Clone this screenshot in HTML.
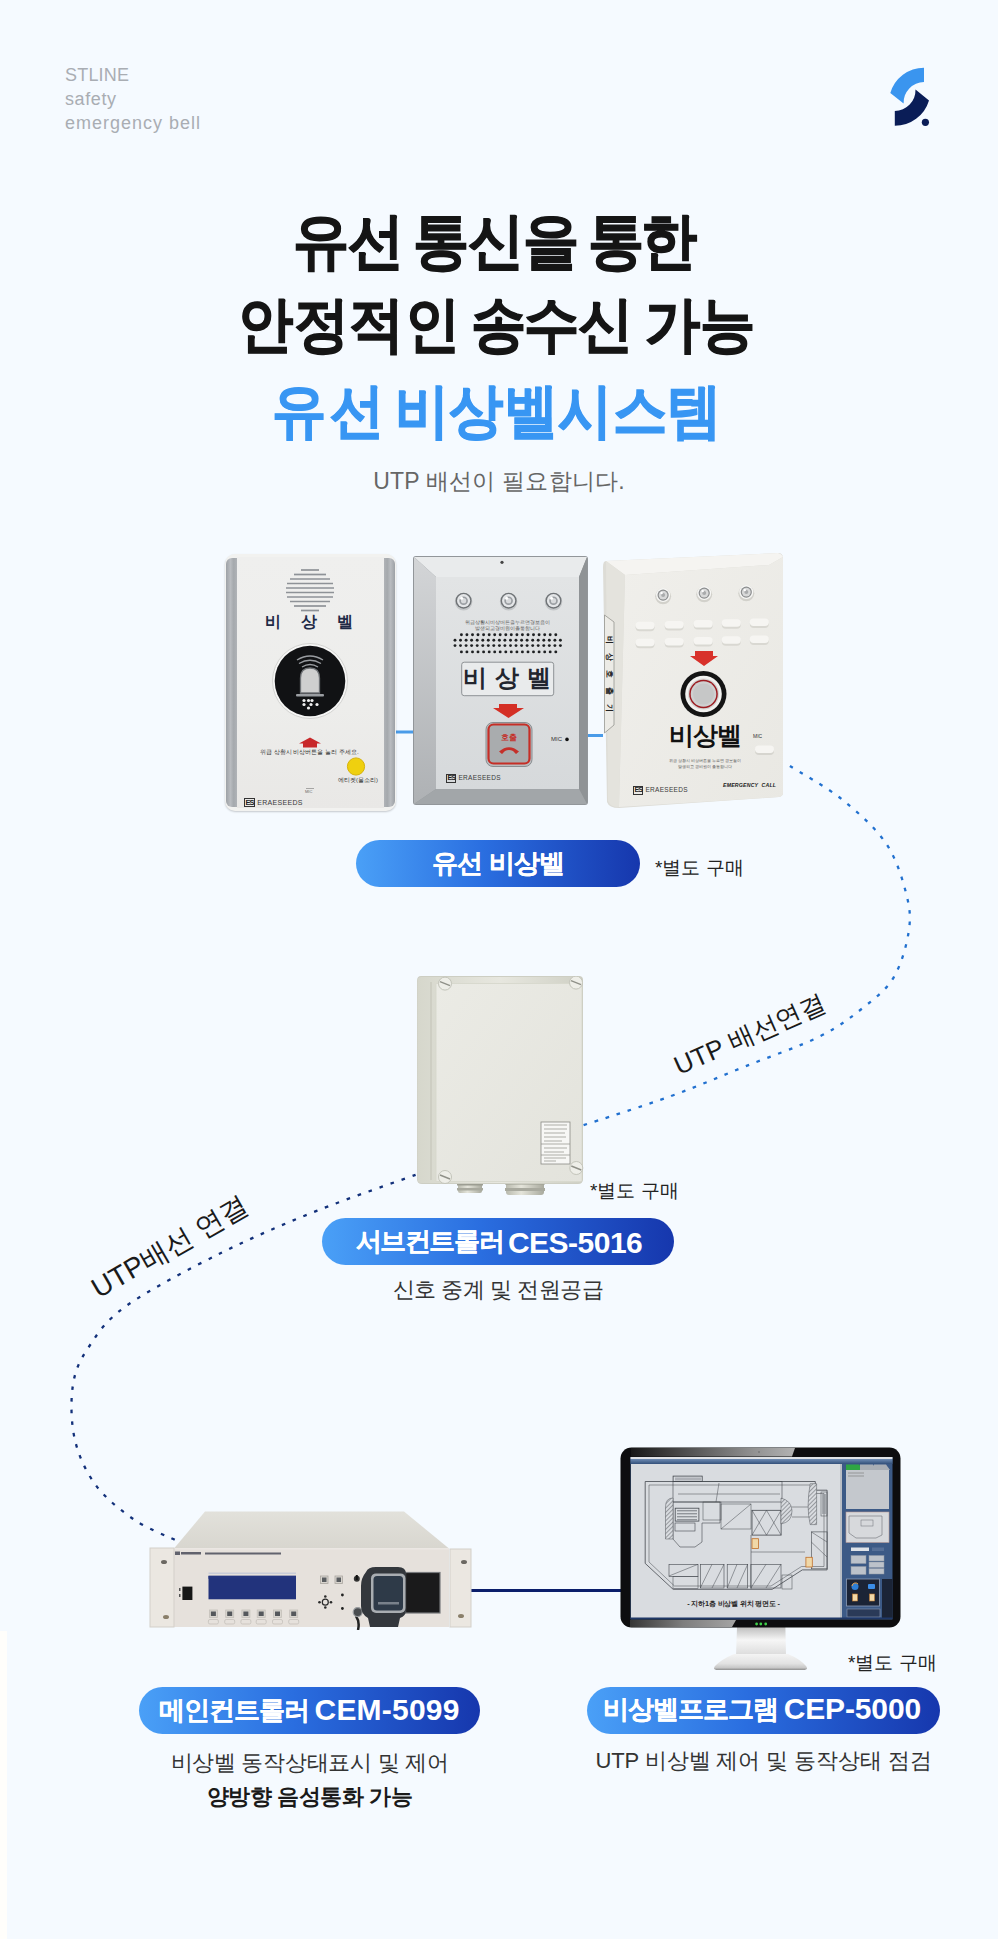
<!DOCTYPE html>
<html><head><meta charset="utf-8">
<style>
html,body{margin:0;padding:0}
body{width:998px;height:1939px;position:relative;overflow:hidden;background:#f5faff;font-family:"Liberation Sans",sans-serif}
.a{position:absolute}
.brand{left:65px;top:63px;color:#a9adb3;font-size:18px;line-height:24px;letter-spacing:1px}
.t{left:0;width:998px;text-align:center;font-weight:700;white-space:nowrap}
.tw{font-weight:700;white-space:nowrap;transform:scaleX(0.92);transform-origin:0 0}
.pill{position:absolute;border-radius:30px;background:linear-gradient(90deg,#4aa0f7 0%,#2a6ee0 45%,#1637ad 100%);color:#fff;text-align:center;font-weight:700;white-space:nowrap}
.pt{color:#fff;font-weight:700;white-space:nowrap;transform-origin:0 0;line-height:normal}
.note{color:#222;font-size:19px;white-space:nowrap}
.desc{color:#333;font-size:22px;white-space:nowrap;text-align:center}
</style></head><body>
<div class="a" style="left:0;top:1631px;width:7px;height:308px;background:#fffefb"></div>
<div class="a brand"><span style="letter-spacing:0.2px">STLINE</span><br><span style="letter-spacing:0.6px">safety</span><br>emergency bell</div>
<svg class="a" style="left:0;top:0" width="998" height="1939" viewBox="0 0 998 1939">
<path d="M924 67.7 A35 35 0 0 0 890.3 93.1 L903.6 103.4 A20.6 20.6 0 0 1 924 82 Z" fill="#3a95ef"/>
<path d="M894.8 125.8 A35.7 35.7 0 0 0 929 100.4 L915.5 89.5 A20.9 20.9 0 0 1 894.8 111 Z" fill="#0a1d57"/>
<circle cx="925.4" cy="122.3" r="3.6" fill="#0a1d57"/>
<path d="M789.9 766.0 C798.5 771.5 825.7 786.3 841.8 799.3 C857.9 812.3 875.5 827.7 886.3 843.8 C897.1 859.9 903.0 880.9 906.7 895.7 C910.4 910.5 910.7 919.2 908.5 932.8 C906.3 946.4 901.1 964.9 893.7 977.3 C886.3 989.7 876.4 997.1 864.0 1007.0 C851.6 1016.9 839.3 1026.7 819.5 1036.6 C799.7 1046.5 770.1 1056.4 745.4 1066.3 C720.7 1076.2 698.4 1086.1 671.2 1096.0 C644.0 1105.9 597.0 1120.7 582.2 1125.6" fill="none" stroke="#2170cf" stroke-width="2.3" stroke-dasharray="3.6 7.9"/>
<path d="M415.6 1174.8 C399.1 1180.8 349.0 1197.9 316.6 1210.9 C284.2 1223.9 253.1 1237.0 221.4 1252.8 C189.7 1268.6 148.4 1290.1 126.2 1306.0 C104.0 1321.9 97.0 1334.7 88.1 1348.0 C79.2 1361.3 75.0 1370.8 72.8 1386.0 C70.6 1401.2 71.0 1422.9 74.8 1439.4 C78.6 1455.9 85.9 1471.7 95.7 1485.0 C105.5 1498.3 120.5 1510.2 133.8 1519.4 C147.1 1528.6 168.7 1536.8 175.7 1540.3" fill="none" stroke="#12307a" stroke-width="2.3" stroke-dasharray="3.6 8"/>
<rect x="394" y="730.5" width="20" height="3" fill="#4a9be8"/>
<rect x="586" y="734" width="17" height="3" fill="#4a9be8"/>
<rect x="467" y="1589" width="156" height="3" fill="#0b1e6b"/>
</svg>
<div id="rt1" class="a" style="left:640px;top:1017px;width:220px;text-align:center;font-size:26px;color:#1a1a1a;transform:rotate(-24deg);white-space:nowrap">UTP 배선연결</div>
<div id="rt2" class="a" style="left:60px;top:1228px;width:220px;text-align:center;font-size:28px;color:#1a1a1a;transform:rotate(-30deg);white-space:nowrap">UTP배선 연결</div>
<div class="a tw" style="left:292.8px;top:201px;font-size:61px;letter-spacing:-1.09px;color:#151515;-webkit-text-stroke:1.2px #151515">유선</div>
<div class="a tw" style="left:413.4px;top:201px;font-size:61px;letter-spacing:-1.36px;color:#151515;-webkit-text-stroke:1.2px #151515">통신을</div>
<div class="a tw" style="left:587.5px;top:201px;font-size:61px;letter-spacing:-3.26px;color:#151515;-webkit-text-stroke:1.2px #151515">통한</div>
<div class="a tw" style="left:238.2px;top:285px;font-size:60px;letter-spacing:0.36px;color:#151515;-webkit-text-stroke:1.2px #151515">안정적인</div>
<div class="a tw" style="left:470.5px;top:285px;font-size:60px;letter-spacing:-1.9px;color:#151515;-webkit-text-stroke:1.2px #151515">송수신</div>
<div class="a tw" style="left:645.1px;top:285px;font-size:60px;letter-spacing:-0.54px;color:#151515;-webkit-text-stroke:1.2px #151515">가능</div>
<div class="a tw" style="left:272.4px;top:372px;font-size:59px;letter-spacing:3.8px;color:#3896f3;-webkit-text-stroke:1.2px #3896f3">유선</div>
<div class="a tw" style="left:394.7px;top:372px;font-size:59px;letter-spacing:0.22px;color:#3896f3;-webkit-text-stroke:1.2px #3896f3">비상벨시스템</div>
<div class="a t" style="top:466px;font-size:23px;letter-spacing:0.21px;font-weight:400;color:#666">UTP 배선이 필요합니다.</div>


<!-- device 1 -->
<div class="a" style="left:225px;top:554px;width:171px;height:257px;border-radius:10px;background:#f2f2f0;box-shadow:0 1px 2px rgba(0,0,0,.2)">
 <div class="a" style="left:1px;top:4px;width:11px;height:249px;border-radius:6px 0 0 6px;background:linear-gradient(90deg,#9da1a6,#b9bcc0 40%,#a5a9ad 70%,#b0b3b7)"></div>
 <div class="a" style="left:159px;top:4px;width:11px;height:249px;border-radius:0 6px 6px 0;background:linear-gradient(90deg,#b0b3b7,#a5a9ad 30%,#b9bcc0 60%,#9da1a6)"></div>
 <div class="a" style="left:12px;top:3px;width:147px;height:251px;background:linear-gradient(180deg,#efefee,#ededeb 60%,#e9e8e6)"></div>
 <svg class="a" style="left:0;top:0" width="171" height="257" viewBox="0 0 171 257">
  <g stroke="#8e9297" stroke-width="1.7">
   <line x1="76" y1="16" x2="94" y2="16"/><line x1="69" y1="20.5" x2="101" y2="20.5"/><line x1="65" y1="25" x2="105" y2="25"/>
   <line x1="62" y1="29.5" x2="108" y2="29.5"/><line x1="61" y1="34" x2="109" y2="34"/><line x1="61" y1="38.5" x2="109" y2="38.5"/>
   <line x1="62" y1="43" x2="108" y2="43"/><line x1="65" y1="47.5" x2="105" y2="47.5"/><line x1="69" y1="52" x2="101" y2="52"/><line x1="76" y1="56.5" x2="94" y2="56.5"/>
  </g>
  <circle cx="85" cy="127" r="37.5" fill="#f7f7f6" stroke="#d3d3d1" stroke-width="1"/>
  <circle cx="85" cy="127" r="35.3" fill="#111214"/>
  <g fill="none" stroke="#9a9da1" stroke-width="1.4"><path d="M72 106 Q85 98 98 106"/><path d="M74 109.5 Q85 103 96 109.5"/><path d="M77 113 Q85 108 93 113"/></g>
  <path d="M75.5 139 V124 Q75.5 114 85 114 Q94.5 114 94.5 124 V139 Z" fill="#cfcfcf" stroke="#6f7276" stroke-width="1.3"/>
  <rect x="71" y="140" width="28" height="2.5" rx="1" fill="#9a9da1"/>
  <g fill="#f0f0f0"><circle cx="79" cy="146.5" r="1.6"/><circle cx="83.5" cy="146.5" r="1.6"/><circle cx="87" cy="146.5" r="1.6"/><circle cx="79" cy="150.5" r="1.6"/><circle cx="86" cy="150.5" r="1.6"/><circle cx="92" cy="150.5" r="1.6"/><circle cx="83.5" cy="154" r="1.6"/></g>
  <path d="M74 189.5 L85 183.5 L96 189.5 Z M78 189 H92 V193.5 H78 Z" fill="#c8282a"/>
  <circle cx="131" cy="212.5" r="8.6" fill="#efd00f" stroke="#d6b20a" stroke-width="1"/>
  <line x1="81" y1="234.5" x2="89" y2="234.5" stroke="#777" stroke-width="0.6"/>
 </svg>
 <div class="a" style="left:40px;top:59px;font-size:15.5px;font-weight:700;color:#1e2a46;letter-spacing:20px;line-height:18px;white-space:nowrap">비상벨</div>
 <div class="a" style="left:35px;top:194px;font-size:6.2px;color:#333;white-space:nowrap;letter-spacing:0px">위급 상황시 비상버튼을 눌러 주세요.</div>
 <div class="a" style="left:113px;top:222px;font-size:5.8px;color:#333;white-space:nowrap">에티켓(물소리)</div>
 <div class="a" style="left:80px;top:235px;font-size:4px;color:#666">MIC</div>
 <div class="a" style="left:19px;top:244px;font-size:7px;color:#3a3a3a;white-space:nowrap;letter-spacing:0.3px"><span style="display:inline-block;font-size:7.5px;font-weight:700;color:#222;border:1px solid #333;line-height:7px;padding:0 0.5px;letter-spacing:-1px">ES</span> ERAESEEDS</div>
</div>
<!-- device 2 -->
<div class="a" style="left:413px;top:556px;width:175px;height:249px">
 <svg class="a" style="left:0;top:0" width="175" height="249" viewBox="0 0 175 249">
  <defs>
   <linearGradient id="d2f" x1="0" y1="0" x2="0" y2="1"><stop offset="0" stop-color="#e2e4e5"/><stop offset="1" stop-color="#d6d9db"/></linearGradient>
   <linearGradient id="d2l" x1="0" y1="0" x2="0" y2="1"><stop offset="0" stop-color="#d3d5d7"/><stop offset="1" stop-color="#aeb1b4"/></linearGradient>
  </defs>
  <path d="M0 3 Q0 0 3 0 H172 Q175 0 175 3 V246 Q175 249 172 249 H3 Q0 249 0 246 Z" fill="#92969a"/>
  <path d="M1 1 H174 L166 21 H23 Z" fill="#e9ebec"/>
  <path d="M1 1 L23 21 V233 L1 248 Z" fill="url(#d2l)"/>
  <path d="M174 1 L166 21 V233 L174 248 Z" fill="#8f9396"/>
  <path d="M1 248 L23 233 H166 L174 248 Z" fill="#a2a6a9"/>
  <rect x="23" y="21" width="143" height="212" fill="url(#d2f)"/>
  <circle cx="89" cy="6.3" r="1.6" fill="#444"/>
  <g><circle cx="50.6" cy="45.7" r="8.8" fill="#c3c6c8"/><circle cx="50.6" cy="44.7" r="8" fill="#6f7376"/><circle cx="50.6" cy="44.7" r="6.6" fill="#e4e6e8"/><circle cx="50.6" cy="44.7" r="4.3" fill="#9a9ea2"/><circle cx="50.6" cy="44.7" r="2.6" fill="#d8dadc"/><circle cx="48.6" cy="42.2" r="1.5" fill="#fff"/><circle cx="95.6" cy="45.7" r="8.8" fill="#c3c6c8"/><circle cx="95.6" cy="44.7" r="8" fill="#6f7376"/><circle cx="95.6" cy="44.7" r="6.6" fill="#e4e6e8"/><circle cx="95.6" cy="44.7" r="4.3" fill="#9a9ea2"/><circle cx="95.6" cy="44.7" r="2.6" fill="#d8dadc"/><circle cx="93.6" cy="42.2" r="1.5" fill="#fff"/><circle cx="140.5" cy="45.7" r="8.8" fill="#c3c6c8"/><circle cx="140.5" cy="44.7" r="8" fill="#6f7376"/><circle cx="140.5" cy="44.7" r="6.6" fill="#e4e6e8"/><circle cx="140.5" cy="44.7" r="4.3" fill="#9a9ea2"/><circle cx="140.5" cy="44.7" r="2.6" fill="#d8dadc"/><circle cx="138.5" cy="42.2" r="1.5" fill="#fff"/></g>
  <g fill="#1e2022"><circle cx="48.4" cy="78.8" r="1.45"/><circle cx="53.9" cy="78.8" r="1.45"/><circle cx="59.5" cy="78.8" r="1.45"/><circle cx="65.0" cy="78.8" r="1.45"/><circle cx="70.6" cy="78.8" r="1.45"/><circle cx="76.2" cy="78.8" r="1.45"/><circle cx="81.7" cy="78.8" r="1.45"/><circle cx="87.2" cy="78.8" r="1.45"/><circle cx="92.8" cy="78.8" r="1.45"/><circle cx="98.3" cy="78.8" r="1.45"/><circle cx="103.9" cy="78.8" r="1.45"/><circle cx="109.4" cy="78.8" r="1.45"/><circle cx="115.0" cy="78.8" r="1.45"/><circle cx="120.5" cy="78.8" r="1.45"/><circle cx="126.1" cy="78.8" r="1.45"/><circle cx="131.7" cy="78.8" r="1.45"/><circle cx="137.2" cy="78.8" r="1.45"/><circle cx="142.8" cy="78.8" r="1.45"/><circle cx="42.0" cy="84.2" r="1.45"/><circle cx="47.5" cy="84.2" r="1.45"/><circle cx="53.1" cy="84.2" r="1.45"/><circle cx="58.6" cy="84.2" r="1.45"/><circle cx="64.2" cy="84.2" r="1.45"/><circle cx="69.8" cy="84.2" r="1.45"/><circle cx="75.3" cy="84.2" r="1.45"/><circle cx="80.8" cy="84.2" r="1.45"/><circle cx="86.4" cy="84.2" r="1.45"/><circle cx="91.9" cy="84.2" r="1.45"/><circle cx="97.5" cy="84.2" r="1.45"/><circle cx="103.0" cy="84.2" r="1.45"/><circle cx="108.6" cy="84.2" r="1.45"/><circle cx="114.1" cy="84.2" r="1.45"/><circle cx="119.7" cy="84.2" r="1.45"/><circle cx="125.2" cy="84.2" r="1.45"/><circle cx="130.8" cy="84.2" r="1.45"/><circle cx="136.3" cy="84.2" r="1.45"/><circle cx="141.9" cy="84.2" r="1.45"/><circle cx="147.4" cy="84.2" r="1.45"/><circle cx="42.0" cy="89.6" r="1.45"/><circle cx="47.5" cy="89.6" r="1.45"/><circle cx="53.1" cy="89.6" r="1.45"/><circle cx="58.6" cy="89.6" r="1.45"/><circle cx="64.2" cy="89.6" r="1.45"/><circle cx="69.8" cy="89.6" r="1.45"/><circle cx="75.3" cy="89.6" r="1.45"/><circle cx="80.8" cy="89.6" r="1.45"/><circle cx="86.4" cy="89.6" r="1.45"/><circle cx="91.9" cy="89.6" r="1.45"/><circle cx="97.5" cy="89.6" r="1.45"/><circle cx="103.0" cy="89.6" r="1.45"/><circle cx="108.6" cy="89.6" r="1.45"/><circle cx="114.1" cy="89.6" r="1.45"/><circle cx="119.7" cy="89.6" r="1.45"/><circle cx="125.2" cy="89.6" r="1.45"/><circle cx="130.8" cy="89.6" r="1.45"/><circle cx="136.3" cy="89.6" r="1.45"/><circle cx="141.9" cy="89.6" r="1.45"/><circle cx="147.4" cy="89.6" r="1.45"/><circle cx="48.4" cy="95.9" r="1.45"/><circle cx="53.9" cy="95.9" r="1.45"/><circle cx="59.5" cy="95.9" r="1.45"/><circle cx="65.0" cy="95.9" r="1.45"/><circle cx="70.6" cy="95.9" r="1.45"/><circle cx="76.2" cy="95.9" r="1.45"/><circle cx="81.7" cy="95.9" r="1.45"/><circle cx="87.2" cy="95.9" r="1.45"/><circle cx="92.8" cy="95.9" r="1.45"/><circle cx="98.3" cy="95.9" r="1.45"/><circle cx="103.9" cy="95.9" r="1.45"/><circle cx="109.4" cy="95.9" r="1.45"/><circle cx="115.0" cy="95.9" r="1.45"/><circle cx="120.5" cy="95.9" r="1.45"/><circle cx="126.1" cy="95.9" r="1.45"/><circle cx="131.7" cy="95.9" r="1.45"/><circle cx="137.2" cy="95.9" r="1.45"/><circle cx="142.8" cy="95.9" r="1.45"/></g>
  <rect x="48.7" y="106.2" width="92" height="33.5" rx="2.5" fill="#e9ebec" stroke="#8e9295" stroke-width="1"/>
  <path d="M86 148 H104 V152 H111 L95.5 162 L80 152 H86 Z" fill="#d42f25"/>
  <rect x="73" y="166.5" width="46" height="44" rx="7" fill="#b9bcbf" stroke="#8a8e91" stroke-width="1"/>
  <rect x="75.5" y="168.5" width="41" height="39" rx="5" fill="#a9acae" stroke="#c62e26" stroke-width="2.2"/>
  <path d="M86 195.5 Q96 187 106 195.5 L103 198 L100 195 Q96 193 92 195 L89 198 Z" fill="#c4302a"/>
  <circle cx="154" cy="183.4" r="1.8" fill="#111"/>
 </svg>
 <div class="a" style="left:48px;top:63px;width:92px;text-align:center;font-size:5px;line-height:6px;color:#555;white-space:nowrap">위급상황시비상버튼을누르면경보음이<br>발생되고경비원이출동합니다</div>
 <div class="a" style="left:50px;top:108px;font-size:24px;line-height:28px;font-weight:700;color:#22252e;letter-spacing:8px;white-space:nowrap">비상벨</div>
 <div class="a" style="left:76px;top:176px;width:40px;text-align:center;font-size:8px;color:#c4302a;font-weight:700">호출</div>
 <div class="a" style="left:138px;top:180px;font-size:6px;color:#333">MIC</div>
 <div class="a" style="left:33px;top:218px;font-size:6.5px;color:#3a3a3a;white-space:nowrap;letter-spacing:0.3px"><span style="display:inline-block;font-size:7px;font-weight:700;color:#222;border:1px solid #333;line-height:6.5px;padding:0 0.5px;letter-spacing:-1px">ES</span> ERAESEEDS</div>
</div>
<!-- device 3 -->
<div class="a" style="left:603px;top:553px;width:181px;height:256px">
 <svg class="a" style="left:0;top:0" width="181" height="256" viewBox="0 0 181 256">
  <defs><linearGradient id="d3f" x1="0" y1="0" x2="1" y2="1"><stop offset="0" stop-color="#f0efeb"/><stop offset="1" stop-color="#e9e8e3"/></linearGradient></defs>
  <path d="M3 8 L175 0 Q180 0 180 5 L180 240 Q180 243 176 244 L16 255 Q6 255 4 249 L0 14 Q0 8 3 8 Z" fill="#dddcd6"/>
  <path d="M3 8 L175 0 Q179 1 180 4 L166 12 L22 22 Z" fill="#f5f4f1"/>
  <path d="M22 22 L166 12 L180 4 L180 240 Q180 243 176 244 L16 254 Z" fill="url(#d3f)"/>
  <path d="M3 8 L22 22 L16 254 Q7 254 5 248 Z" fill="#e4e3dd"/>
  <path d="M1.5 62 L11 69 L11 172 L1.5 180 Z" fill="#ecebe6" stroke="#8a8a84" stroke-width="0.7"/>
  <circle cx="60.1" cy="43.300000000000004" r="8" fill="#d2d1cb"/><circle cx="60.1" cy="42.1" r="7" fill="#f7f7f5"/><circle cx="60.1" cy="42.1" r="5.6" fill="#8a8c8d"/><circle cx="60.1" cy="42.1" r="4.4" fill="#d8d9d9"/><circle cx="60.1" cy="42.1" r="2" fill="#a9abac"/><circle cx="58.6" cy="40.1" r="1.2" fill="#fff"/><circle cx="101.2" cy="41.300000000000004" r="8" fill="#d2d1cb"/><circle cx="101.2" cy="40.1" r="7" fill="#f7f7f5"/><circle cx="101.2" cy="40.1" r="5.6" fill="#8a8c8d"/><circle cx="101.2" cy="40.1" r="4.4" fill="#d8d9d9"/><circle cx="101.2" cy="40.1" r="2" fill="#a9abac"/><circle cx="99.7" cy="38.1" r="1.2" fill="#fff"/><circle cx="143.3" cy="40.300000000000004" r="8" fill="#d2d1cb"/><circle cx="143.3" cy="39.1" r="7" fill="#f7f7f5"/><circle cx="143.3" cy="39.1" r="5.6" fill="#8a8c8d"/><circle cx="143.3" cy="39.1" r="4.4" fill="#d8d9d9"/><circle cx="143.3" cy="39.1" r="2" fill="#a9abac"/><circle cx="141.8" cy="37.1" r="1.2" fill="#fff"/>
  <rect x="32.6" y="70.2" width="19" height="8" rx="4" fill="#d9d8d2"/><rect x="32.6" y="68.7" width="19" height="7.5" rx="3.7" fill="#f6f5f2"/><rect x="61.7" y="69.4" width="19" height="8" rx="4" fill="#d9d8d2"/><rect x="61.7" y="67.9" width="19" height="7.5" rx="3.7" fill="#f6f5f2"/><rect x="90.7" y="68.6" width="19" height="8" rx="4" fill="#d9d8d2"/><rect x="90.7" y="67.1" width="19" height="7.5" rx="3.7" fill="#f6f5f2"/><rect x="118.8" y="67.8" width="19" height="8" rx="4" fill="#d9d8d2"/><rect x="118.8" y="66.3" width="19" height="7.5" rx="3.7" fill="#f6f5f2"/><rect x="146.8" y="67.0" width="19" height="8" rx="4" fill="#d9d8d2"/><rect x="146.8" y="65.5" width="19" height="7.5" rx="3.7" fill="#f6f5f2"/><rect x="32.6" y="87.2" width="19" height="8" rx="4" fill="#d9d8d2"/><rect x="32.6" y="85.7" width="19" height="7.5" rx="3.7" fill="#f6f5f2"/><rect x="61.7" y="86.4" width="19" height="8" rx="4" fill="#d9d8d2"/><rect x="61.7" y="84.9" width="19" height="7.5" rx="3.7" fill="#f6f5f2"/><rect x="90.7" y="85.6" width="19" height="8" rx="4" fill="#d9d8d2"/><rect x="90.7" y="84.1" width="19" height="7.5" rx="3.7" fill="#f6f5f2"/><rect x="118.8" y="84.8" width="19" height="8" rx="4" fill="#d9d8d2"/><rect x="118.8" y="83.3" width="19" height="7.5" rx="3.7" fill="#f6f5f2"/><rect x="146.8" y="84.0" width="19" height="8" rx="4" fill="#d9d8d2"/><rect x="146.8" y="82.5" width="19" height="7.5" rx="3.7" fill="#f6f5f2"/>
  <path d="M92 98 H110 V103 H115 L101 113 L87 103 H92 Z" fill="#d8312a"/>
  <circle cx="100.5" cy="141" r="23" fill="#141414"/>
  <circle cx="100.5" cy="141" r="18.3" fill="#f2f2f0"/>
  <circle cx="100.5" cy="141" r="15.5" fill="#d4d4d2"/>
  <circle cx="100.5" cy="141" r="14.3" fill="#9c1d22"/>
  <circle cx="100.5" cy="141" r="12.8" fill="#cfd0d0"/>
  <circle cx="100.5" cy="141" r="10.5" fill="#c6c7c7"/>
  <rect x="152" y="194" width="19" height="8" rx="4" fill="#d6d5cf"/><rect x="152" y="192.5" width="19" height="7.5" rx="3.7" fill="#f6f5f2"/>
 </svg>
 <div class="a" style="left:64px;top:168px;width:76px;text-align:center;font-size:25px;line-height:28px;font-weight:700;color:#111;letter-spacing:-1px">비상벨</div>
 <div class="a" style="left:150px;top:180px;font-size:5px;color:#333">MIC</div>
 <div class="a" style="left:64px;top:205px;width:76px;text-align:center;font-size:4px;line-height:6px;color:#555;white-space:nowrap">위급 상황시 비상버튼을 누르면 경보음이<br>발생되고 경비원이 출동합니다</div>
 <div class="a" style="left:120px;top:229px;font-size:5.2px;font-weight:700;font-style:italic;color:#222;white-space:nowrap;letter-spacing:0.2px">EMERGENCY&nbsp; CALL</div>
 <div class="a" style="left:30px;top:233px;font-size:6.5px;color:#3a3a3a;white-space:nowrap;letter-spacing:0.3px"><span style="display:inline-block;font-size:7px;font-weight:700;color:#222;border:1px solid #333;line-height:6.5px;padding:0 0.5px;letter-spacing:-1px">ES</span> ERAESEEDS</div>
 <div class="a" style="left:-46px;top:116px;width:104px;height:10px;font-size:8px;line-height:10px;color:#222;text-align:center;transform:rotate(90deg);letter-spacing:9px;text-indent:9px;white-space:nowrap;font-weight:700">비상호출기</div>
</div>
<div class="pill" style="left:356px;top:840px;width:284px;height:47px;line-height:47px;font-size:26px"></div>
<div class="a note" style="left:655px;top:855px">*별도 구매</div>


<!-- subcontroller -->
<div class="a" style="left:416px;top:976px;width:168px;height:222px">
 <svg class="a" style="left:0;top:0" width="168" height="222" viewBox="0 0 168 222">
  <defs><linearGradient id="bxf" x1="0" y1="0" x2="1" y2="1"><stop offset="0" stop-color="#ebebe5"/><stop offset="1" stop-color="#e3e3dc"/></linearGradient>
  <linearGradient id="bxs" x1="0" y1="0" x2="1" y2="0"><stop offset="0" stop-color="#d6d7cc"/><stop offset="0.5" stop-color="#e7e7df"/><stop offset="1" stop-color="#cfd0c5"/></linearGradient>
  <linearGradient id="gl" x1="0" y1="0" x2="1" y2="0"><stop offset="0" stop-color="#b9baae"/><stop offset="0.4" stop-color="#e4e4da"/><stop offset="1" stop-color="#a9aa9e"/></linearGradient></defs>
  <rect x="42" y="203" width="24" height="14" rx="2" fill="url(#gl)"/><rect x="41" y="207" width="26" height="2.5" fill="#9c9d92"/><rect x="41" y="212" width="26" height="2.5" fill="#a8a99e"/>
  <rect x="90" y="199" width="38" height="20" rx="3" fill="url(#gl)"/><rect x="89" y="206" width="40" height="2.5" fill="#9c9d92"/><rect x="89" y="212" width="40" height="3" fill="#a8a99e"/>
  <path d="M5 0 H163 Q167 0 167 4 V203 Q167 208 162 208 H6 Q1 208 1 203 V5 Q1 0 5 0 Z" fill="#cdcec3"/>
  <rect x="1.5" y="1" width="165" height="206" rx="4" fill="url(#bxs)"/>
  <rect x="19" y="7" width="147" height="199" rx="2" fill="#d8d9ce"/>
  <rect x="20.5" y="8" width="145" height="197" fill="url(#bxf)"/>
  <line x1="15" y1="6" x2="15" y2="204" stroke="#c6c7bb" stroke-width="1.2"/>
  <rect x="125" y="146" width="29" height="42" fill="#f7f7f5" stroke="#8a8b84" stroke-width="0.8"/>
  <g stroke="#8d8e88" stroke-width="0.7"><line x1="128" y1="149" x2="151" y2="149"/><line x1="128" y1="153" x2="151" y2="153"/><line x1="128" y1="157" x2="149" y2="157"/><line x1="128" y1="161" x2="150" y2="161"/><line x1="128" y1="165" x2="146" y2="165"/><line x1="125" y1="168" x2="154" y2="168"/><line x1="128" y1="172" x2="151" y2="172"/><line x1="128" y1="176" x2="148" y2="176"/><line x1="125" y1="179" x2="154" y2="179"/><line x1="128" y1="182" x2="150" y2="182"/><line x1="128" y1="185" x2="140" y2="185"/></g>
  <circle cx="29" cy="7.6" r="6.5" fill="#eeeee8" stroke="#c3c4ba" stroke-width="1"/><line x1="24" y1="5.6" x2="34" y2="9.6" stroke="#8f9088" stroke-width="1.4"/><circle cx="160" cy="6.6" r="6.5" fill="#eeeee8" stroke="#c3c4ba" stroke-width="1"/><line x1="155" y1="4.6" x2="165" y2="8.6" stroke="#8f9088" stroke-width="1.4"/><circle cx="29" cy="201" r="6.5" fill="#eeeee8" stroke="#c3c4ba" stroke-width="1"/><line x1="24" y1="199" x2="34" y2="203" stroke="#8f9088" stroke-width="1.4"/><circle cx="160.3" cy="192" r="6.5" fill="#eeeee8" stroke="#c3c4ba" stroke-width="1"/><line x1="155.3" y1="190" x2="165.3" y2="194" stroke="#8f9088" stroke-width="1.4"/>
 </svg>
</div>
<div class="pill" style="left:322px;top:1218px;width:352px;height:47px;line-height:47px;font-size:26px;letter-spacing:0.33px"></div>
<div class="a note" style="left:590px;top:1178px">*별도 구매</div>
<div class="a desc" style="left:0;width:996px;top:1275px;letter-spacing:-0.5px">신호 중계 및 전원공급</div>


<!-- rack -->
<div class="a" style="left:148px;top:1510px;width:324px;height:120px">
 <svg class="a" style="left:0;top:0" width="324" height="120" viewBox="0 0 324 120">
  <defs><linearGradient id="rkt" x1="0" y1="0" x2="0" y2="1"><stop offset="0" stop-color="#e2e1db"/><stop offset="1" stop-color="#d8d6cf"/></linearGradient></defs>
  <path d="M57 1.5 H256 L301 38.5 H26 Z" fill="url(#rkt)"/>
  <rect x="25" y="38" width="276" height="79" fill="#e6e1dc"/>
  <rect x="25" y="38" width="276" height="1.5" fill="#ebe7e3"/>
  <rect x="2" y="38" width="24" height="79" fill="#ebe7e1" stroke="#d3cfc9" stroke-width="1"/>
  <rect x="302" y="39" width="21" height="78" fill="#ebe7e1" stroke="#d3cfc9" stroke-width="1"/>
  <ellipse cx="16" cy="52" rx="3" ry="2" fill="#6b6862"/><ellipse cx="18" cy="107" rx="3" ry="2" fill="#8a7f6a"/>
  <ellipse cx="316" cy="52" rx="3" ry="2" fill="#6b6862"/><ellipse cx="313" cy="106" rx="3" ry="2" fill="#8a7f6a"/>
  <g fill="#4a4c5a" opacity="0.85"><rect x="27" y="41.5" width="5" height="3.5"/><rect x="33" y="42" width="20" height="2.5"/><rect x="57" y="42.5" width="76" height="2"/></g>
  <rect x="60.5" y="62.5" width="87.5" height="1.5" fill="#c8ccd8"/>
  <rect x="60.5" y="65.8" width="87.5" height="23.5" fill="#22337c"/>
  <rect x="60.5" y="65.8" width="87.5" height="3" fill="#24357e"/>
  <rect x="34.4" y="76.6" width="10" height="13.4" fill="#161616"/>
  <rect x="31" y="78" width="1.5" height="3" fill="#555"/><rect x="31" y="84" width="1.5" height="3" fill="#555"/>
  <rect x="61.4" y="100" width="8" height="7.5" fill="#d9d5cf" stroke="#c4c0ba" stroke-width="0.8"/><rect x="62.9" y="101.5" width="5" height="4.5" fill="#55585c"/><rect x="60.4" y="109.5" width="10" height="4.5" rx="1.5" fill="none" stroke="#c0bcb6" stroke-width="0.7"/><rect x="77.7" y="100" width="8" height="7.5" fill="#d9d5cf" stroke="#c4c0ba" stroke-width="0.8"/><rect x="79.2" y="101.5" width="5" height="4.5" fill="#55585c"/><rect x="76.7" y="109.5" width="10" height="4.5" rx="1.5" fill="none" stroke="#c0bcb6" stroke-width="0.7"/><rect x="93.9" y="100" width="8" height="7.5" fill="#d9d5cf" stroke="#c4c0ba" stroke-width="0.8"/><rect x="95.4" y="101.5" width="5" height="4.5" fill="#55585c"/><rect x="92.9" y="109.5" width="10" height="4.5" rx="1.5" fill="none" stroke="#c0bcb6" stroke-width="0.7"/><rect x="109.2" y="100" width="8" height="7.5" fill="#d9d5cf" stroke="#c4c0ba" stroke-width="0.8"/><rect x="110.7" y="101.5" width="5" height="4.5" fill="#55585c"/><rect x="108.2" y="109.5" width="10" height="4.5" rx="1.5" fill="none" stroke="#c0bcb6" stroke-width="0.7"/><rect x="125.5" y="100" width="8" height="7.5" fill="#d9d5cf" stroke="#c4c0ba" stroke-width="0.8"/><rect x="127.0" y="101.5" width="5" height="4.5" fill="#55585c"/><rect x="124.5" y="109.5" width="10" height="4.5" rx="1.5" fill="none" stroke="#c0bcb6" stroke-width="0.7"/><rect x="141.7" y="100" width="8" height="7.5" fill="#d9d5cf" stroke="#c4c0ba" stroke-width="0.8"/><rect x="143.2" y="101.5" width="5" height="4.5" fill="#55585c"/><rect x="140.7" y="109.5" width="10" height="4.5" rx="1.5" fill="none" stroke="#c0bcb6" stroke-width="0.7"/>
  <rect x="172.5" y="66" width="7.5" height="7.5" fill="#d9d5cf" stroke="#aaa6a0" stroke-width="0.8"/><rect x="174" y="67.5" width="4.5" height="4.5" fill="#5a5d60"/>
  <rect x="187" y="66" width="7.5" height="7.5" fill="#d9d5cf" stroke="#aaa6a0" stroke-width="0.8"/><rect x="188.5" y="67.5" width="4.5" height="4.5" fill="#5a5d60"/>
  <g fill="#2a2a2a"><circle cx="177.3" cy="86.5" r="1.3"/><circle cx="177.3" cy="97.5" r="1.3"/><circle cx="171.5" cy="92.2" r="1.3"/><circle cx="183" cy="92.2" r="1.3"/></g>
  <circle cx="177.3" cy="92.2" r="3" fill="none" stroke="#2a2a2a" stroke-width="1.2"/>
  <circle cx="194.4" cy="85" r="1.4" fill="#222"/><circle cx="194.4" cy="98.5" r="1.4" fill="#222"/>
  <circle cx="208.8" cy="68.8" r="3" fill="#333"/><rect x="207.8" y="65" width="2" height="5" fill="#111"/>
  <path d="M208 106 Q212 112 210 120" stroke="#222" stroke-width="2.5" fill="none"/>
  <circle cx="209.7" cy="102.1" r="4.5" fill="#4a4d50" stroke="#9a9da0" stroke-width="1.2"/>
  <rect x="257.5" y="62.5" width="34.5" height="40.5" fill="#1a1a1b" stroke="#77797c" stroke-width="1.2"/>
  <path d="M218 62 Q220 57 228 57 H250 Q258 57 258 64 V100 Q258 106 252 108 L250 117 H222 L220 108 Q213 104 213 96 V76 Q213 68 218 62 Z" fill="#33373c"/>
  <rect x="223" y="63.4" width="34.5" height="39.6" rx="5" fill="#a9adb1"/>
  <rect x="225.5" y="66" width="29.5" height="34.5" rx="3.5" fill="#2e3a48"/>
  <rect x="230" y="92" width="21" height="2.5" fill="#9aa0a8" opacity="0.7"/>
 </svg>
</div>
<!-- monitor -->
<div class="a" style="left:620px;top:1447px;width:281px;height:225px">
 <svg class="a" style="left:0;top:0" width="281" height="225" viewBox="0 0 281 225">
  <defs>
   <linearGradient id="mnk" x1="0" y1="0" x2="0" y2="1"><stop offset="0" stop-color="#bdbdbd"/><stop offset="0.45" stop-color="#f6f6f6"/><stop offset="1" stop-color="#dadada"/></linearGradient>
   <linearGradient id="mbs" x1="0" y1="0" x2="0" y2="1"><stop offset="0" stop-color="#f4f4f4"/><stop offset="0.6" stop-color="#e2e2e2"/><stop offset="0.85" stop-color="#c8c8c8"/><stop offset="1" stop-color="#8e8e8e"/></linearGradient>
   <linearGradient id="mgl" x1="0" y1="0" x2="1" y2="0"><stop offset="0" stop-color="#1a1a1a"/><stop offset="0.75" stop-color="#a9a9a9"/><stop offset="1" stop-color="#d0d0d0"/></linearGradient>
   <linearGradient id="mgl2" x1="0" y1="0" x2="1" y2="0"><stop offset="0" stop-color="#3a3a3a"/><stop offset="0.5" stop-color="#8a8a8a"/><stop offset="1" stop-color="#b5b5b5"/></linearGradient>
   <linearGradient id="mbar" x1="0" y1="0" x2="0" y2="1"><stop offset="0" stop-color="#6f8db5"/><stop offset="1" stop-color="#33507a"/></linearGradient>
   <pattern id="hp" width="3" height="3" patternUnits="userSpaceOnUse" patternTransform="rotate(45)"><rect width="3" height="3" fill="#d9dce0"/><line x1="0" y1="0" x2="0" y2="3" stroke="#55595e" stroke-width="1"/></pattern>
  </defs>
  <path d="M117 180 H165.4 L166 209 H116 Z" fill="url(#mnk)"/>
  <path d="M114 207 H168 Q180 212 186 219 Q189 223 183 223 H98 Q92 223 95 219 Q102 212 114 207 Z" fill="url(#mbs)"/>
  <rect x="0.5" y="0.5" width="280" height="180" rx="11" fill="#0d0d0f"/>
  <path d="M11 1 H175 L172 9.5 H11 Z" fill="url(#mgl)" opacity="0.85"/>
  <circle cx="139" cy="5" r="0.9" fill="#777"/>
  <rect x="10.5" y="10" width="262" height="162.5" fill="#3c5a86"/>
  <rect x="10.5" y="10" width="262" height="2" fill="#dfe2e6"/>
  <rect x="10.5" y="12" width="262" height="5" fill="url(#mbar)"/>
  <rect x="11" y="17" width="211" height="154.5" fill="#d9dce0"/>
  <rect x="220" y="17" width="2" height="154.5" fill="#b9bec5"/>
  <path d="M226 17.5 H239 L243 23 H226 Z" fill="#2fa544"/><path d="M240 17.5 H253 L257 23 H240 Z" fill="#a9aeb5"/><path d="M254 17.5 H266 L270 23 H254 Z" fill="#a9aeb5"/>
  <rect x="226" y="23" width="43" height="39" fill="#c4c8cd"/>
  <g fill="#777" opacity="0.6"><rect x="228" y="25.5" width="16" height="1"/><rect x="228" y="28.5" width="16" height="1"/></g>
  <rect x="226" y="65" width="43" height="30.5" fill="#d7d9dc" stroke="#b89a94" stroke-width="0.6"/>
  <path d="M229 69 H262 V88 L256 91 H236 L229 86 Z" fill="none" stroke="#6b6f75" stroke-width="0.6"/>
  <rect x="241" y="73" width="12" height="6" fill="none" stroke="#6b6f75" stroke-width="0.5"/>
  <rect x="231" y="100.5" width="18" height="3.5" fill="#dfe3e8"/><rect x="252" y="100.5" width="12" height="3.5" fill="#556f97"/>
  <g fill="#bcc2ca" stroke="#8d96a3" stroke-width="0.5"><rect x="231" y="108.5" width="15" height="8"/><rect x="249" y="108.5" width="15" height="5.5"/><rect x="249" y="115" width="15" height="5.5"/><rect x="231" y="119.5" width="15" height="8"/><rect x="249" y="121.5" width="15" height="5.5"/></g>
  <rect x="226.5" y="132" width="33" height="27" fill="#1b2436" stroke="#8c9cb6" stroke-width="0.8"/>
  <rect x="262" y="132" width="10.5" height="40" fill="#1b2436"/>
  <circle cx="235" cy="139.5" r="3.5" fill="#2e7fd6"/><path d="M232 139 a3.5 3.5 0 0 1 6 -2" stroke="#f0a040" stroke-width="1" fill="none"/>
  <rect x="248" y="137" width="7" height="5" rx="1" fill="#3b8ee8"/>
  <rect x="232.5" y="147" width="5" height="7" fill="#f2d9a8" stroke="#c07a30" stroke-width="0.6"/><rect x="249.5" y="147" width="5" height="7" fill="#f2d9a8" stroke="#c07a30" stroke-width="0.6"/>
  <rect x="227" y="162" width="33" height="8" fill="#2a3a58" stroke="#8c9cb6" stroke-width="0.6"/>
  <g fill="none" stroke="#44484e" stroke-width="0.8">
   <path d="M25.2 34.5 H195.3 V43.2 H207.1 V122.9 H182.3 L152.2 142.3 H53.1 L25.2 116.4 Z"/>
   <path d="M29 38 H192 V46.5 H204 V119.5 H181.5 L151 139 H54.5 L29 115 Z" stroke-width="0.5"/>
   <rect x="53.1" y="29.1" width="29.1" height="5.4"/>
   <rect x="53" y="34.5" width="109" height="20.5" stroke-width="0.6"/>
   <line x1="58" y1="47" x2="160" y2="47" stroke-width="0.5"/><line x1="99" y1="36" x2="96" y2="55" stroke-width="0.5"/>
   <rect x="55.2" y="61.2" width="23.7" height="12.9"/>
   <rect x="55" y="76" width="20" height="8" stroke-width="0.6"/>
   <path d="M53 55 H100 V76 H82 V95 L75 100 H60 L53 92 Z" stroke-width="0.6"/>
   <rect x="83" y="55" width="18" height="18" stroke-width="0.5"/>
   <rect x="101" y="57" width="30" height="25" stroke-width="0.5"/><line x1="101" y1="82" x2="131" y2="57" stroke-width="0.5"/>
   <rect x="132" y="63.3" width="29.1" height="24.8"/><line x1="132" y1="63.3" x2="146.5" y2="88.1" stroke-width="0.5"/><line x1="146.5" y1="63.3" x2="132" y2="88.1" stroke-width="0.5"/><line x1="146.5" y1="63.3" x2="161.1" y2="88.1" stroke-width="0.5"/><line x1="161.1" y1="63.3" x2="146.5" y2="88.1" stroke-width="0.5"/>
   <line x1="131" y1="88" x2="131" y2="142" stroke-width="0.6"/>
   <line x1="131" y1="105" x2="185" y2="105" stroke-width="0.5"/>
   <line x1="172" y1="70" x2="195" y2="70" stroke-width="0.5"/><line x1="172" y1="60" x2="195" y2="60" stroke-width="0.5"/>
   <rect x="191.3" y="84.9" width="15.8" height="36.9" stroke-width="0.6"/><line x1="191.3" y1="95" x2="207" y2="110" stroke-width="0.5"/><line x1="191.3" y1="84.9" x2="207" y2="95" stroke-width="0.5"/>
   <rect x="49" y="117.3" width="29" height="12" stroke-width="0.6"/><line x1="49" y1="129" x2="78" y2="117.3" stroke-width="0.5"/><rect x="53" y="129.3" width="25" height="12" stroke-width="0.5"/>
   <rect x="80.3" y="117.3" width="23.7" height="23.7" stroke-width="0.6"/><line x1="80.3" y1="141" x2="92" y2="117.3" stroke-width="0.5"/><line x1="92" y1="141" x2="104" y2="117.3" stroke-width="0.5"/>
   <rect x="107.2" y="117.3" width="20.5" height="23.7" stroke-width="0.6"/><line x1="107.2" y1="141" x2="117" y2="117.3" stroke-width="0.5"/><line x1="117" y1="141" x2="127.7" y2="117.3" stroke-width="0.5"/>
   <rect x="130.9" y="117.3" width="30.1" height="23.7" stroke-width="0.6"/><line x1="130.9" y1="141" x2="146" y2="117.3" stroke-width="0.5"/><line x1="146" y1="141" x2="161" y2="117.3" stroke-width="0.5"/>
   <rect x="162" y="128" width="10" height="14" stroke-width="0.5"/>
   <rect x="201" y="45" width="6" height="24" stroke-width="0.5"/>
  </g>
  <g fill="#8a8e94" opacity="0.9"><rect x="57" y="63" width="20" height="1.4"/><rect x="57" y="66" width="20" height="1.4"/><rect x="57" y="69" width="20" height="1.4"/><rect x="57" y="72" width="20" height="1.4"/><rect x="202" y="47" width="4" height="20" opacity="0.7"/><rect x="55" y="30.5" width="26" height="3" opacity="0.6"/></g>
  <g fill="url(#hp)" stroke="#50545a" stroke-width="0.5">
   <path d="M45.5 92 V60 Q45.5 51 53 51 V92 Z"/>
   <path d="M161 51 Q172 54 172 64 Q172 75 161 77 Z"/>
   <path d="M190.2 36.7 H196.6 V77.6 H190.2 Q186 60 190.2 36.7 Z"/>
  </g>
  <rect x="132" y="91.7" width="6.5" height="9.9" fill="#f0d8a8" stroke="#c0702a" stroke-width="0.8"/>
  <rect x="185.9" y="110.3" width="6.4" height="9.7" fill="#f0d8a8" stroke="#c0702a" stroke-width="0.8"/>
  <path d="M10 173 H116 L112 180 H10 Z" fill="url(#mgl2)" opacity="0.9"/><rect x="10.5" y="170.5" width="262" height="1.5" fill="#1f3766"/><circle cx="136.6" cy="177" r="1.4" fill="#3fd04a"/><circle cx="140.8" cy="177" r="1.4" fill="#3fd04a"/><circle cx="145.7" cy="177" r="1.4" fill="#3fd04a"/>
 </svg>
 <div class="a" style="left:65px;top:152px;width:97px;text-align:center;font-size:7.4px;line-height:10px;font-weight:700;color:#2a2a2a;white-space:nowrap;letter-spacing:-0.2px">- 지하1층 비상벨 위치 평면도 -</div>
</div>
<div class="pill" style="left:139px;top:1687px;width:341px;height:47px;line-height:47px;font-size:26px;letter-spacing:0.9px"></div>
<div class="pill" style="left:587px;top:1687px;width:353px;height:47px;line-height:47px;font-size:26px;letter-spacing:0.75px"></div>
<div class="a note" style="left:848px;top:1650px">*별도 구매</div>
<div class="a desc" style="left:139px;width:341px;top:1748px;letter-spacing:-0.3px">비상벨 동작상태표시 및 제어</div>
<div class="a desc" style="left:139px;width:341px;top:1782px;letter-spacing:-0.45px;font-weight:700;color:#1a1a1a">양방향 음성통화 가능</div>
<div class="a desc" style="left:587px;width:353px;top:1746px;letter-spacing:-0.1px">UTP 비상벨 제어 및 동작상태 점검</div>
<div class="a pt" style="left:432px;top:846px;font-size:26px;letter-spacing:-0.8px;transform:scaleX(1);-webkit-text-stroke:0.2px #fff">유선 비상벨</div>
<div class="a pt" style="left:355.6px;top:1224.3px;font-size:26px;letter-spacing:-1.4px;transform:scaleX(1);-webkit-text-stroke:0.2px #fff">서브컨트롤러</div>
<div class="a pt" style="left:507.9px;top:1225.7px;font-size:30px;letter-spacing:-0.5px;transform:scaleX(1);-webkit-text-stroke:0px #fff">CES-5016</div>
<div class="a pt" style="left:158.8px;top:1693px;font-size:26px;letter-spacing:-0.9px;transform:scaleX(1);-webkit-text-stroke:0.2px #fff">메인컨트롤러</div>
<div class="a pt" style="left:314.5px;top:1692.5px;font-size:30px;letter-spacing:0.21px;transform:scaleX(1);-webkit-text-stroke:0px #fff">CEM-5099</div>
<div class="a pt" style="left:602.7px;top:1691.5px;font-size:26px;letter-spacing:-0.92px;transform:scaleX(1);-webkit-text-stroke:0.2px #fff">비상벨프로그램</div>
<div class="a pt" style="left:783.7px;top:1692px;font-size:30px;letter-spacing:-0.14px;transform:scaleX(1);-webkit-text-stroke:0px #fff">CEP-5000</div>
</body></html>
